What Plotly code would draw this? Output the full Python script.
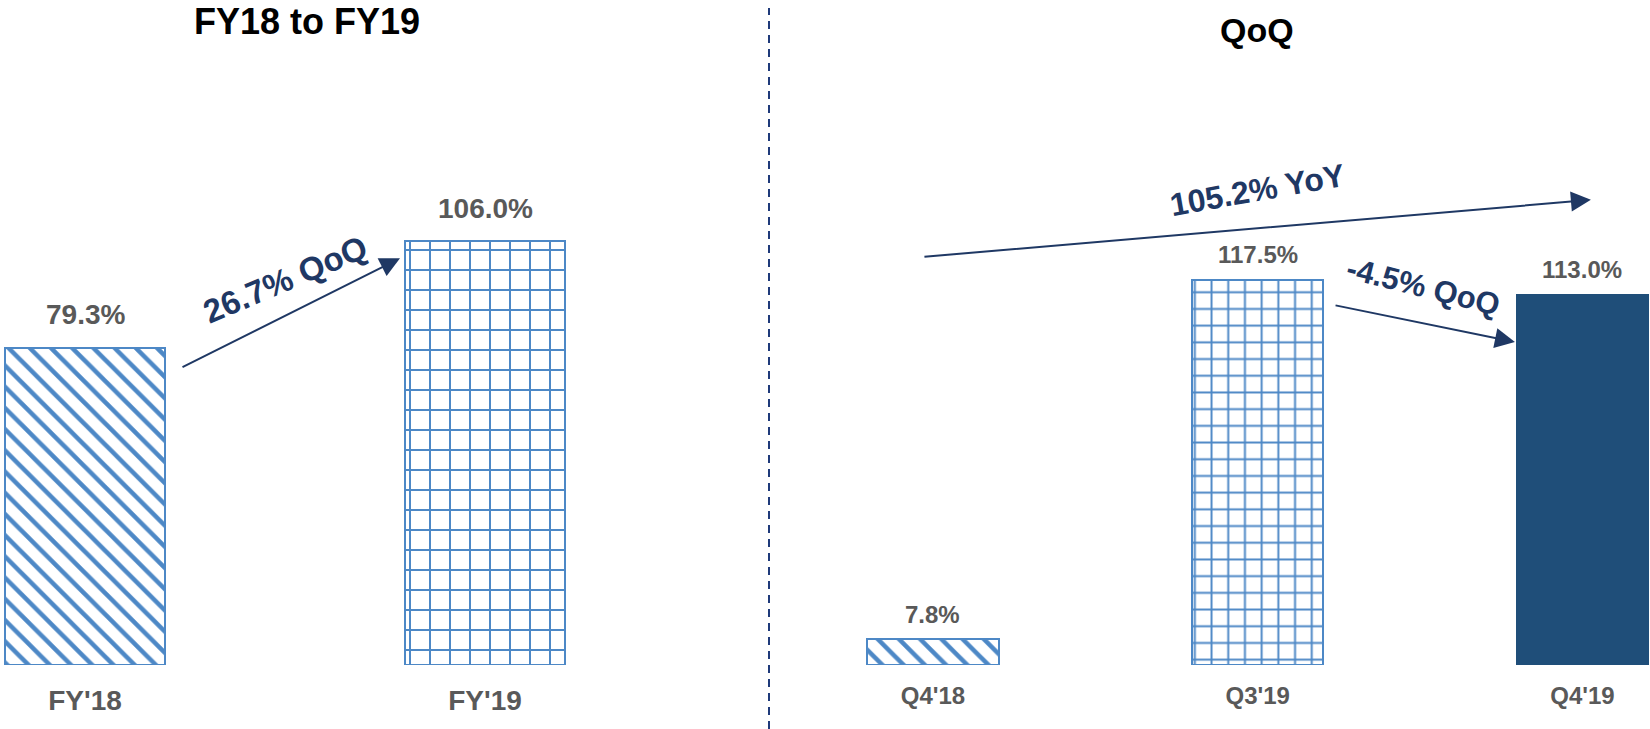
import plotly.graph_objects as go

# ---- data -------------------------------------------------------------
fy_labels = ["FY'18", "FY'19"]
fy_values = [79.3, 106.0]

q_labels = ["Q4'18", "Q3'19", "Q4'19"]
q_values = [7.8, 117.5, 113.0]

fy_change_text = "26.7% QoQ"
yoy_change_text = "105.2% YoY"
qoq_change_text = "-4.5% QoQ"

left_title = "FY18 to FY19"
right_title = "QoQ"

# ---- styling ----------------------------------------------------------
FONT = "Liberation Sans, Arial, sans-serif"
BLUE = "#4D88C6"
PALE = "#F6FAFD"
NAVY = "#1F4E79"
ARROW = "#1F3864"
GREY = "#595959"

W, H = 1650, 729
SPLIT = 769 / W             # vertical divider between the two panels
BASE = 64 / H               # bottom of the plotting area (bar baseline)

fig = go.Figure()

# left panel: FY bars (hatched, then grid)
fig.add_trace(go.Bar(
    x=fy_labels, y=fy_values, width=0.4,
    xaxis="x", yaxis="y",
    marker=dict(
        color=[BLUE, BLUE],
        line=dict(color=BLUE, width=2),
        pattern=dict(shape=["\\", "+"], size=[15, 20], solidity=[0.3, 0.19],
                     fgcolor=[BLUE, BLUE], bgcolor=[PALE, PALE], fgopacity=1,
                     fillmode="replace"),
    ),
    hoverinfo="skip", showlegend=False,
))

# right panel: quarterly bars
fig.add_trace(go.Bar(
    x=q_labels, y=q_values, width=0.404,
    xaxis="x2", yaxis="y2",
    marker=dict(
        color=[BLUE, BLUE, NAVY],
        line=dict(color=[BLUE, BLUE, NAVY], width=2),
        pattern=dict(shape=["\\", "+", ""], size=[15, 16.7, 10], solidity=[0.3, 0.22, 0.2],
                     fgcolor=[BLUE, BLUE, NAVY], bgcolor=[PALE, PALE, NAVY], fgopacity=1,
                     fillmode="replace"),
    ),
    hoverinfo="skip", showlegend=False,
))

annotations = []

# value labels above bars
for i, v in enumerate(fy_values):
    annotations.append(dict(
        x=i, y=v, xref="x", yref="y", text=f"{v:.1f}%", showarrow=False,
        yanchor="middle", yshift=33,
        font=dict(family=FONT, size=28, color=GREY, weight="bold"),
    ))
for i, v in enumerate(q_values):
    annotations.append(dict(
        x=i, y=v, xref="x2", yref="y2", text=f"{v:.1f}%", showarrow=False,
        yanchor="middle", yshift=25,
        font=dict(family=FONT, size=24, color=GREY, weight="bold"),
    ))

# change arrows (tip at x/y, tail at ax/ay, all in data units)
arrow_style = dict(showarrow=True, text="", arrowhead=2, arrowsize=2,
                   arrowwidth=2, arrowcolor=ARROW, standoff=0, startstandoff=0)
annotations.append(dict(
    xref="x", yref="y", axref="x", ayref="y",
    x=0.7875, y=fy_values[1] - 4.3, ax=0.24, ay=fy_values[0] - 5.0, **arrow_style))
annotations.append(dict(
    xref="x2", yref="y2", axref="x2", ayref="y2",
    x=2.026, y=141.9, ax=-0.031, ay=124.5, **arrow_style))
annotations.append(dict(
    xref="x2", yref="y2", axref="x2", ayref="y2",
    x=1.792, y=q_values[2] - 14.5, ax=1.235, ay=q_values[1] - 7.7, **arrow_style))

# change labels along the arrows
annotations.append(dict(
    xref="x", yref="y", x=0.5, y=96.5, text=fy_change_text, showarrow=False,
    textangle=-23, font=dict(family=FONT, size=33, color=ARROW, weight="bold")))
annotations.append(dict(
    xref="x2", yref="y2", x=0.998, y=144.9, text=yoy_change_text, showarrow=False,
    textangle=-10, font=dict(family=FONT, size=32, color=ARROW, weight="bold")))
annotations.append(dict(
    xref="x2", yref="y2", x=1.509, y=115.6, text=qoq_change_text, showarrow=False,
    textangle=14, font=dict(family=FONT, size=31, color=ARROW, weight="bold")))

# panel titles
annotations.append(dict(
    xref="paper", yref="paper", x=307 / W, y=1 - 21.5 / H, text=left_title,
    showarrow=False, xanchor="center", yanchor="middle",
    font=dict(family=FONT, size=36, color="#000000", weight="bold")))
annotations.append(dict(
    xref="paper", yref="paper", x=1257 / W, y=1 - 29.5 / H, text=right_title,
    showarrow=False, xanchor="center", yanchor="middle",
    font=dict(family=FONT, size=34, color="#000000", weight="bold")))

axis_common = dict(showgrid=False, zeroline=False, showline=False, ticks="",
                   fixedrange=True)

fig.update_layout(
    width=W, height=H,
    margin=dict(l=0, r=0, t=0, b=0),
    paper_bgcolor="white", plot_bgcolor="white",
    xaxis=dict(domain=[0, SPLIT], range=[-0.2125, 1.71], anchor="y",
               tickfont=dict(family=FONT, size=28, color=GREY, weight="bold"),
               ticklabelstandoff=16, **axis_common),
    yaxis=dict(domain=[BASE, 1], range=[0, 665 / 4.0], anchor="x",
               visible=False, **axis_common),
    xaxis2=dict(domain=[SPLIT, 1], range=[-0.505, 2.208], anchor="y2",
                tickfont=dict(family=FONT, size=24, color=GREY, weight="bold"),
                ticklabelstandoff=14, **axis_common),
    yaxis2=dict(domain=[BASE, 1], range=[0, 665 / 3.278], anchor="x2",
                visible=False, **axis_common),
    bargap=0,
    annotations=annotations,
    shapes=[dict(type="line", xref="paper", yref="paper",
                 x0=SPLIT, x1=SPLIT, y0=0, y1=1 - 8 / H,
                 line=dict(color="#1F3A7A", width=2, dash="8px,6px"))],
)

fig.write_html("out.html")
